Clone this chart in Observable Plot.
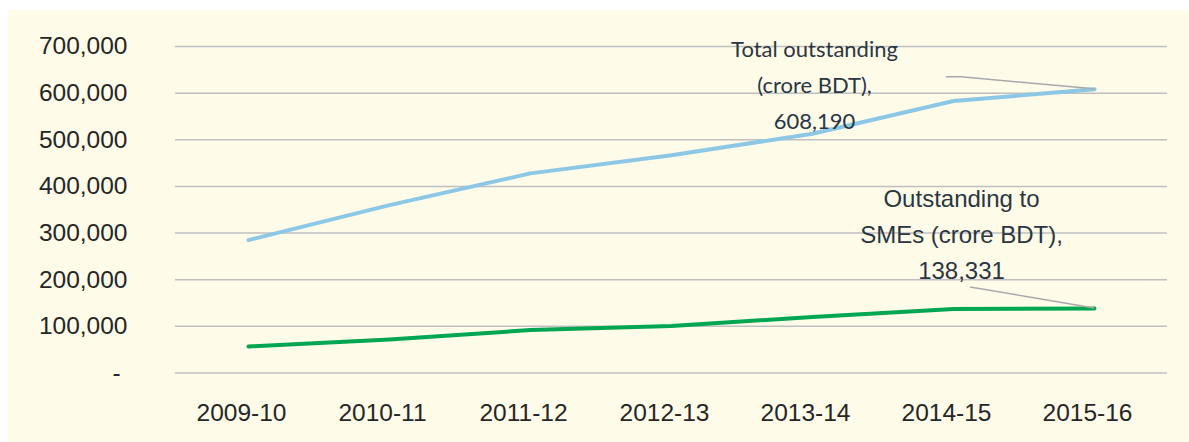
<!DOCTYPE html>
<html>
<head>
<meta charset="utf-8">
<script src="https://cdn.jsdelivr.net/npm/d3@7"></script>
<script src="https://cdn.jsdelivr.net/npm/@observablehq/plot@0.6"></script>
<style>
  html, body { margin: 0; padding: 0; background: #ffffff; }
  #frame { position: absolute; left: 8px; top: 10px; width: 1181px; height: 432px; background: #fefbe9; }
</style>
</head>
<body>
<div id="frame"></div>
<script>
const years = ["2009-10", "2010-11", "2011-12", "2012-13", "2013-14", "2014-15", "2015-16"];
const totalOutstanding = [285000, 360000, 428000, 467000, 513000, 583000, 608190];
const smeOutstanding = [57000, 72000, 92000, 101000, 120000, 137000, 138331];
const yTicks = [0, 100000, 200000, 300000, 400000, 500000, 600000, 700000];
const totalLabel = "Total outstanding\n(crore BDT),\n608,190";
const smeLabel = "Outstanding to\nSMEs (crore BDT),\n138,331";

const totalData = years.map((y, i) => ({year: y, value: totalOutstanding[i]}));
const smeData = years.map((y, i) => ({year: y, value: smeOutstanding[i]}));
const lastTotal = totalData[totalData.length - 1];
const lastSme = smeData[smeData.length - 1];

const fmt = d3.format(",");

// leader lines drawn relative to the scaled end points
function leaders(index, scales) {
  const ns = "http://www.w3.org/2000/svg";
  const g = document.createElementNS(ns, "g");
  const add = (d) => {
    const p = document.createElementNS(ns, "path");
    p.setAttribute("d", d);
    p.setAttribute("fill", "none");
    p.setAttribute("stroke", "#a9a9a9");
    p.setAttribute("stroke-width", "1.5");
    g.appendChild(p);
  };
  const xt = scales.x(lastTotal.year), yt = scales.y(lastTotal.value);
  add(`M${xt - 148},${yt - 12}H${xt - 133}L${xt},${yt}`);
  const xs = scales.x(lastSme.year), ys = scales.y(lastSme.value);
  add(`M${xs - 124},${ys - 21}L${xs},${ys}`);
  return g;
}

const chart = Plot.plot({
  width: 1181,
  height: 432,
  marginLeft: 167,
  marginRight: 22,
  marginTop: 36,
  marginBottom: 69.5,
  style: {background: "transparent", fontFamily: "'Liberation Sans', Arial, sans-serif", color: "#262626"},
  x: {type: "point", domain: years, padding: 0.5, label: null},
  y: {domain: [0, 700000], label: null},
  marks: [
    Plot.ruleY(yTicks, {stroke: "#bfbfbf", strokeWidth: 1.5}),
    Plot.axisY({ticks: yTicks, tickSize: 0, tickPadding: 48, fontSize: 24.5, label: null,
      tickFormat: d => d === 0 ? "-\u00a0" : fmt(d), fill: "#262626"}),
    Plot.axisX({tickSize: 0, tickPadding: 31, fontSize: 24.5, label: null, dx: -7, fill: "#262626"}),
    Plot.line(totalData, {x: "year", y: "value", stroke: "#8cc8e6", strokeWidth: 4, strokeLinecap: "round", strokeLinejoin: "round"}),
    Plot.line(smeData, {x: "year", y: "value", stroke: "#00a651", strokeWidth: 4, strokeLinecap: "round", strokeLinejoin: "round"}),
    leaders,
    Plot.text([lastTotal], {x: "year", y: "value", text: () => totalLabel, dx: -280, dy: -8,
      fontFamily: "Lato, 'Open Sans', sans-serif", fontSize: 22, lineHeight: 1.64, fill: "#2b3642", textAnchor: "middle"}),
    Plot.text([lastSme], {x: "year", y: "value", text: () => smeLabel, dx: -133, dy: -77,
      fontFamily: "'Liberation Sans', Arial, sans-serif", fontSize: 24, lineHeight: 1.5, fill: "#2b3642", textAnchor: "middle"})
  ]
});
document.getElementById("frame").appendChild(chart);
</script>
</body>
</html>
